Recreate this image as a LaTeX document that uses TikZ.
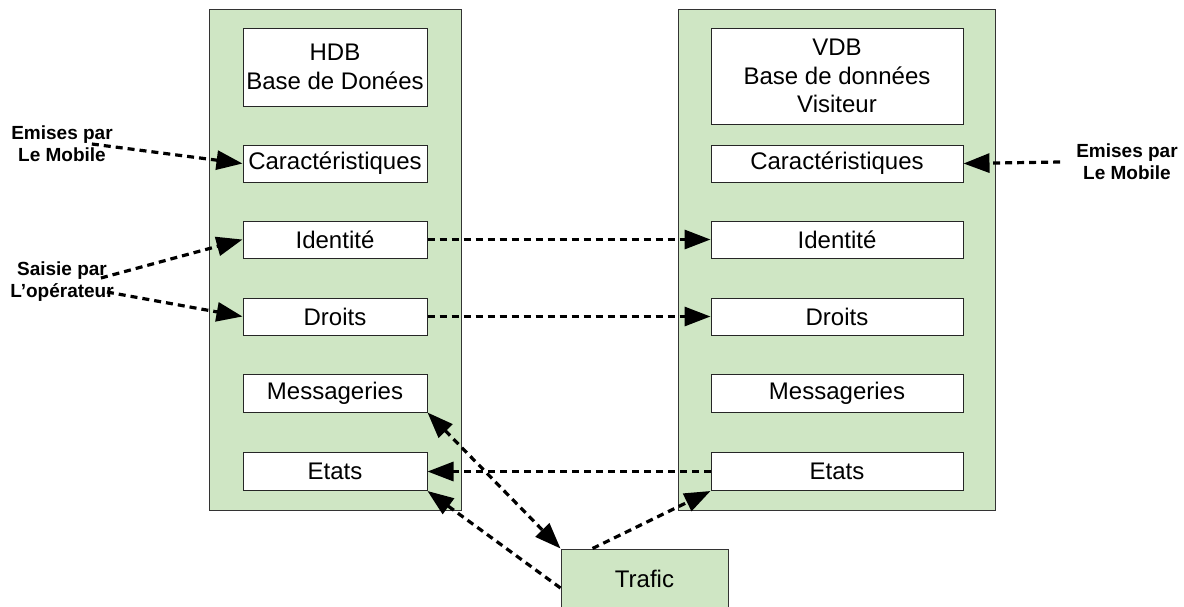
\documentclass[tikz,border=0pt]{standalone}
\usepackage{fontspec}
\setmainfont{Liberation Sans}
\usetikzlibrary{arrows.meta,calc}
\definecolor{boxgreen}{RGB}{207,230,196}
\begin{document}
\begin{tikzpicture}[x=1pt,y=-1pt,
  greenbox/.style={draw=black!80, fill=boxgreen, line width=1pt, inner sep=0pt},
  field/.style={draw=black!85, fill=white, line width=1pt, inner sep=0pt,
    font=\fontsize{24}{28.5}\selectfont, align=center},
  lbl/.style={font=\bfseries\fontsize{19}{22}\selectfont, align=center, inner sep=1pt},
  link/.style={line width=3.2pt, dash pattern=on 7pt off 5pt,
    -{Triangle[length=26pt,width=19pt]}},
  biglink/.style={line width=3.2pt, dash pattern=on 7pt off 5pt,
    {Triangle[length=26pt,width=19pt]}-{Triangle[length=26pt,width=19pt]}},
]
\useasboundingbox (0,0) rectangle (1184,606);
\clip (0,0) rectangle (1184,606);
\fill[white] (0,0) rectangle (1184,606);

% containers
\node[greenbox, minimum width=252pt, minimum height=501pt] (lg) at (335,259.5) {};
\node[greenbox, minimum width=317pt, minimum height=501pt] (rg) at (836.5,259.5) {};
\node[greenbox, minimum width=167pt, minimum height=60pt, font=\fontsize{24}{28}\selectfont] (traf) at (644.5,579) {Trafic};

% left fields
\node[field, minimum width=184pt, minimum height=78pt] (hdb) at (335,67) {HDB\\Base de Donées};
\node[field, minimum width=184pt, minimum height=37pt] (lcar) at (335,163.5) {Caractéristiques};
\node[field, minimum width=184pt, minimum height=37pt] (lid) at (335,239.5) {Identité};
\node[field, minimum width=184pt, minimum height=37pt] (ldr) at (335,316.5) {Droits};
\node[field, minimum width=184pt, minimum height=38pt] (lmes) at (335,393) {Messageries};
\node[field, minimum width=184pt, minimum height=38pt] (let) at (335,471.5) {Etats};

% right fields
\node[field, minimum width=252pt, minimum height=96pt] (vdb) at (837,76) {VDB\\Base de données\\Visiteur};
\node[field, minimum width=252pt, minimum height=37pt] (rcar) at (837,163.5) {Caractéristiques};
\node[field, minimum width=252pt, minimum height=37pt] (rid) at (837,239.5) {Identité};
\node[field, minimum width=252pt, minimum height=37pt] (rdr) at (837,316.5) {Droits};
\node[field, minimum width=252pt, minimum height=38pt] (rmes) at (837,393) {Messageries};
\node[field, minimum width=252pt, minimum height=38pt] (ret) at (837,471.5) {Etats};

% labels
\node[lbl] (lab1) at (62,144) {Emises par\\Le Mobile};
\node[lbl] (lab2) at (62,282) {Saisie par\\L’opérateur};
\node[lbl] (lab3) at (1127,162) {Emises par\\Le Mobile};

% connectors
\draw[link] ($(lab1.east)+(-22,0)$) -- (lcar.west);
\draw[link] ($(lab2.east)+(-14,-4)$) -- (lid.west);
\draw[link] ($(lab2.east)+(-8,10)$) -- (ldr.west);
\draw[link] ($(lab3.west)+(-15,0)$) -- (rcar.east);
\draw[link] (lid.east) -- (rid.west);
\draw[link] (ldr.east) -- (rdr.west);
\draw[link] (ret.west) -- (let.east);
\draw[biglink] (lmes.south east) -- (traf.north west);
\draw[link] ($(traf.west)+(0,9)$) -- (let.south east);
\draw[link] ($(traf.north west)+(32,0)$) -- (ret.south west);
\end{tikzpicture}
\end{document}
